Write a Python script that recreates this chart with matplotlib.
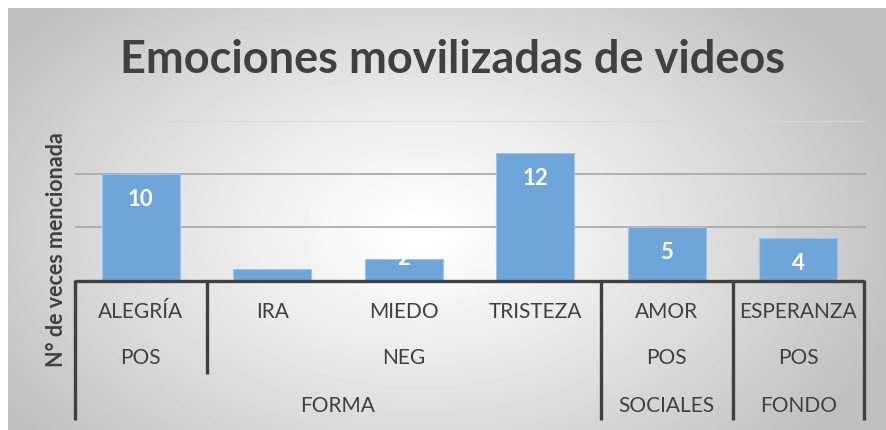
import numpy as np
import matplotlib
matplotlib.use("Agg")
import matplotlib.pyplot as plt
from matplotlib.transforms import blended_transform_factory

# datos
emociones = ["ALEGRÍA", "IRA", "MIEDO", "TRISTEZA", "AMOR", "ESPERANZA"]
valores = [10, 1, 2, 12, 5, 4]
# segundo nivel: (etiqueta, primer indice, ultimo indice)
polaridad = [("POS", 0, 0), ("NEG", 1, 3), ("POS", 4, 4), ("POS", 5, 5)]
# tercer nivel
tipo = [("FORMA", 0, 3), ("SOCIALES", 4, 4), ("FONDO", 5, 5)]

W, H = 886, 430
fig = plt.figure(figsize=(W / 100, H / 100), dpi=100)
fig.patch.set_facecolor("white")

def px(x0, y0, x1, y1):
    # caja en pixeles (origen arriba-izquierda) -> coords de figura
    return [x0 / W, 1 - y1 / H, (x1 - x0) / W, (y1 - y0) / H]

# ================== FONDO (degradado radial) ==================
bg = fig.add_axes(px(8, 8, W, H))
yy, xx = np.mgrid[8:H:1, 8:W:1]
r = np.sqrt(((xx - 420) / 500.0) ** 2 + ((yy - 230) / 320.0) ** 2)
val = 1.0 - 0.25 * np.clip(r, 0, 1) ** 1.2
bg.imshow(val, cmap="gray", vmin=0, vmax=1, aspect="auto",
          extent=[0, 1, 0, 1], interpolation="bilinear")
bg.set_axis_off()

# ================== GRAFICO ==================
ax = fig.add_axes(px(75, 121, 866, 280))
ax.patch.set_alpha(0)
x = np.arange(len(emociones))
ax.set_xlim(-0.5, len(emociones) - 0.5 + 0.015)
ax.set_ylim(0, 15)

for g, c in zip([5, 10, 15], ["#a6a6a6", "#a6a6a6", "#d9d9d9"]):
    ax.axhline(g, color=c, lw=1.2, zorder=1)

ax.bar(x, valores, width=0.59, color="#6fa6da", edgecolor="#9cc3e8",
       linewidth=0.8, zorder=2)

for xi, v in zip(x, valores):
    if v < 2:
        continue
    yl = v - 2.45 if v >= 4 else v
    ax.text(xi, yl, str(v), ha="center", va="center", color="white",
            fontsize=16, fontweight="bold", family="Lato", zorder=3)

for s in ax.spines.values():
    s.set_visible(False)
ax.set_xticks([])
ax.set_yticks([])

# ================== EJE DE CATEGORIAS ==================
tr = blended_transform_factory(ax.transData, fig.transFigure)
fy = lambda p: 1 - p / H
axis_col = "#404040"
txt_col = "#404040"

ax.plot([-0.5, 5.5], [fy(281), fy(281)], transform=tr, color=axis_col,
        lw=2.4, clip_on=False, solid_capstyle="butt", zorder=4)
for xv, bottom in [(-0.5, 420), (0.5, 374), (3.5, 420), (4.5, 420), (5.5, 420)]:
    ax.plot([xv, xv], [fy(280), fy(bottom)], transform=tr, color=axis_col,
            lw=2.4, clip_on=False, solid_capstyle="butt", zorder=4)

lab_kw = dict(transform=tr, ha="center", va="center", color=txt_col,
              fontsize=15, family="Lato", clip_on=False)
for xi, e in zip(x, emociones):
    ax.text(xi, fy(312), e, **lab_kw)
for lab, a, b in polaridad:
    ax.text((a + b) / 2, fy(358), lab, **lab_kw)
for lab, a, b in tipo:
    ax.text((a + b) / 2, fy(406), lab, **lab_kw)

# ================== TITULOS ==================
fig.text(453 / W, fy(60), "Emociones movilizadas de videos", ha="center",
         va="center", fontsize=32.5, fontweight="bold", color="#404040",
         family="Lato")
fig.text(57 / W, fy(250), "N° de veces mencionada", ha="center", va="center",
         rotation=90, fontsize=15.5, fontweight="bold", color="#404040",
         family="Lato")

fig.savefig("out.png", dpi=100)
